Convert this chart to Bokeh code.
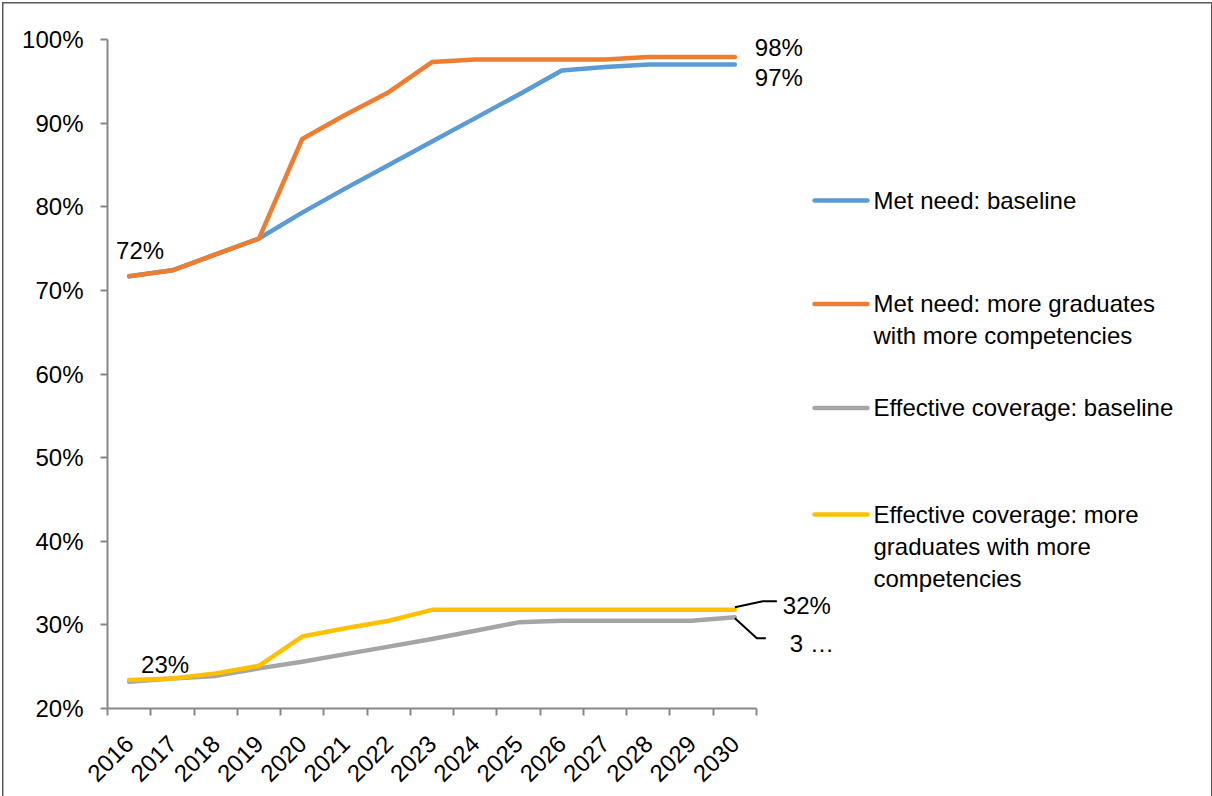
from math import pi

from bokeh.core.properties import value
from bokeh.embed import file_html
from bokeh.models import FixedTicker, LinearAxis, Range1d
from bokeh.plotting import figure
from bokeh.resources import INLINE

# ---- data -----------------------------------------------------------------
years = [2016, 2017, 2018, 2019, 2020, 2021, 2022, 2023, 2024, 2025, 2026, 2027, 2028, 2029, 2030]

met_need_baseline = [71.7, 72.4, 74.3, 76.2, 79.3, 82.2, 85.0, 87.8, 90.6, 93.4, 96.3, 96.7, 97.0, 97.0, 97.0]
met_need_more = [71.7, 72.4, 74.3, 76.2, 88.1, 91.0, 93.7, 97.3, 97.6, 97.6, 97.6, 97.6, 97.9, 97.9, 97.9]
eff_cov_baseline = [23.2, 23.6, 23.9, 24.8, 25.6, 26.5, 27.4, 28.3, 29.3, 30.3, 30.5, 30.5, 30.5, 30.5, 30.9]
eff_cov_more = [23.4, 23.6, 24.2, 25.1, 28.6, 29.6, 30.5, 31.8, 31.8, 31.8, 31.8, 31.8, 31.8, 31.8, 31.8]

y_ticks = [20, 30, 40, 50, 60, 70, 80, 90, 100]

series_names = [
    "Met need: baseline",
    "Met need: more graduates\nwith more competencies",
    "Effective coverage: baseline",
    "Effective coverage: more\ngraduates with more\ncompetencies",
]
series_values = [met_need_baseline, met_need_more, eff_cov_baseline, eff_cov_more]
series_colors = ["#5B9BD5", "#ED7D31", "#A5A5A5", "#FFC000"]

# ---- layout constants ------------------------------------------------------
W, H = 1212, 796
LEFT, RIGHT, BOTTOM = 107, 6, 88
AXIS_TOP = 39                      # pixel row of the 100% tick
FRAME_TOP = 8                      # frame reaches higher so labels are not clipped
n = len(years)
UX = (756 - LEFT) / n                                       # pixels per category
UY = (H - BOTTOM - AXIS_TOP) / (y_ticks[-1] - y_ticks[0])   # pixels per percent
x_max = (W - LEFT - RIGHT) / UX
y_top = y_ticks[-1] + (AXIS_TOP - FRAME_TOP) / UY

FONT = value("Liberation Sans")
FS = "24px"
AXIS_COLOR = "#878787"

xs = [i + 0.5 for i in range(n)]

p = figure(
    width=W, height=H,
    x_range=Range1d(0, x_max), y_range=Range1d(y_ticks[0], y_top),
    output_backend="svg", toolbar_location=None,
    x_axis_type=None, y_axis_type=None,
    min_border_left=LEFT, min_border_right=RIGHT,
    min_border_top=FRAME_TOP, min_border_bottom=BOTTOM,
)
p.outline_line_color = None
p.background_fill_color = None
p.border_fill_color = None
p.styles = {
    "background-color": "white",
    "box-shadow": "inset 2px 2px 0 0 #ffffff, inset 3.5px 3.5px 0 0 #595959, inset -1px 0 0 0 #595959",
}

# ---- axes ------------------------------------------------------------------
yaxis = LinearAxis(ticker=FixedTicker(ticks=y_ticks, minor_ticks=[]))
yaxis.bounds = (y_ticks[0], y_ticks[-1])
yaxis.major_label_overrides = {t: f"{t}%" for t in y_ticks}
yaxis.axis_line_color = AXIS_COLOR
yaxis.axis_line_width = 2
yaxis.major_tick_line_color = AXIS_COLOR
yaxis.major_tick_line_width = 2
yaxis.major_tick_out = 7
yaxis.major_tick_in = 0
yaxis.minor_tick_line_color = None
yaxis.major_label_standoff = 17
yaxis.major_label_text_font = "Liberation Sans"
yaxis.major_label_text_font_size = FS
yaxis.major_label_text_color = "#000000"
p.add_layout(yaxis, "left")

xaxis = LinearAxis(ticker=FixedTicker(ticks=xs, minor_ticks=list(range(n + 1))))
xaxis.bounds = (0, n)
xaxis.major_label_overrides = {x: str(y) for x, y in zip(xs, years)}
xaxis.axis_line_color = AXIS_COLOR
xaxis.axis_line_width = 2
xaxis.major_tick_line_color = None
xaxis.major_tick_out = 0
xaxis.major_tick_in = 0
xaxis.minor_tick_line_color = AXIS_COLOR
xaxis.minor_tick_line_width = 2
xaxis.minor_tick_out = 7
xaxis.minor_tick_in = 0
xaxis.major_label_orientation = pi / 4
xaxis.major_label_standoff = 24
xaxis.major_label_text_font = "Liberation Sans"
xaxis.major_label_text_font_size = FS
xaxis.major_label_text_color = "#000000"
p.add_layout(xaxis, "below")

p.xgrid.visible = False
p.ygrid.visible = False

# ---- series lines ----------------------------------------------------------
for vals, color in zip(series_values, series_colors):
    p.line(xs, vals, line_color=color, line_width=4.5,
           line_cap="round", line_join="round")

# ---- data labels -----------------------------------------------------------
def pct(v):
    return f"{round(v)}%"

label_style = dict(text_font=FONT, text_font_size=FS, text_color="#000000",
                   text_baseline="middle")

# first-year labels
p.text([xs[0]], [met_need_more[0]], text=[pct(met_need_more[0])],
       x_offset=11, y_offset=-26, text_align="center", **label_style)
p.text([xs[0]], [eff_cov_more[0]], text=[pct(eff_cov_more[0])],
       x_offset=36, y_offset=-16, text_align="center", **label_style)

# end-of-series labels
p.text([xs[-1]], [met_need_more[-1]], text=[pct(met_need_more[-1])],
       x_offset=20, y_offset=-10, text_align="left", **label_style)
p.text([xs[-1]], [met_need_baseline[-1]], text=[pct(met_need_baseline[-1])],
       x_offset=20, y_offset=13, text_align="left", **label_style)
p.text([xs[-1]], [eff_cov_more[-1]], text=[pct(eff_cov_more[-1])],
       x_offset=48, y_offset=-4, text_align="left", **label_style)
# the baseline label is clipped to its first character in the chart box
p.text([xs[-1]], [eff_cov_baseline[-1]], text=[pct(eff_cov_baseline[-1])[0] + " …"],
       x_offset=55, y_offset=26, text_align="left", **label_style)

# leader lines for the two effective-coverage end labels (pixel offsets)
def leader(x0, y0, offsets):
    return ([x0 + dx / UX for dx, _ in offsets], [y0 - dy / UY for _, dy in offsets])

lx1, ly1 = leader(xs[-1], eff_cov_more[-1], [(0, -2.5), (28, -8.5), (42, -8.5)])
lx2, ly2 = leader(xs[-1], eff_cov_baseline[-1], [(0, 1), (22, 21), (31, 21)])
p.multi_line([lx1, lx2], [ly1, ly2], line_color="#000000", line_width=2)

# ---- legend ----------------------------------------------------------------
def px_x(px):
    return (px - LEFT) / UX


def px_y(py):
    return y_ticks[0] + (H - BOTTOM - py) / UY


legend_rows = [200, 303.5, 407.5, 514]
for name, color, row in zip(series_names, series_colors, legend_rows):
    p.segment(x0=[px_x(814)], y0=[px_y(row)], x1=[px_x(867)], y1=[px_y(row)],
              line_color=color, line_width=4.5, line_cap="round")
    p.text([px_x(873)], [px_y(row - 14)], text=[name], text_font=FONT,
           text_font_size=FS, text_color="#000000", text_align="left",
           text_baseline="top", text_line_height=1.2)

open("out.html", "w").write(file_html(p, INLINE))
